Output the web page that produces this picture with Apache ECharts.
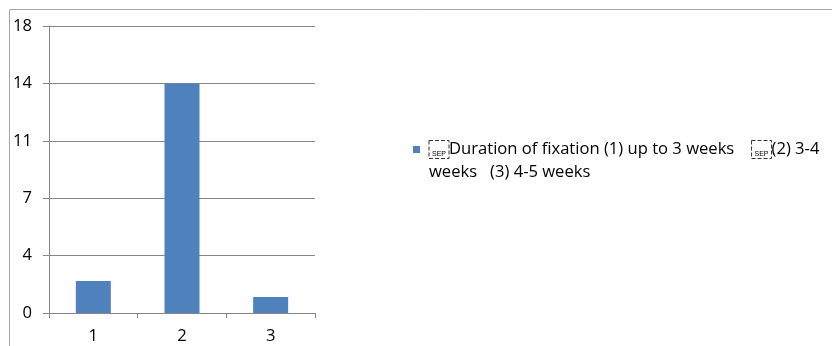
<!DOCTYPE html>
<html>
<head>
<meta charset="utf-8">
<script src="https://cdn.jsdelivr.net/npm/echarts@6/dist/echarts.min.js"></script>
<style>
  html, body { margin: 0; padding: 0; background: #fff; }
  #chart { width: 832px; height: 346px; }
</style>
</head>
<body>
<div id="chart"></div>
<script>
// Fixation duration groups and their counts
const categories = ['1', '2', '3'];
const counts = [2, 14.4, 1];
const seriesName = 'Duration of fixation';

// Value axis: 0..18 split into five equal steps, labels rounded
const yMin = 0;
const yMax = 18;
const yStep = 3.6;

const FONT = 'Open Sans';
const FONT_SIZE = 16.6;
const AXIS_GRAY = '#868686';

const chart = echarts.init(document.getElementById('chart'), null, { renderer: 'canvas' });

chart.setOption({
  animation: false,
  backgroundColor: '#ffffff',
  textStyle: { fontFamily: FONT },
  graphic: [
    {
      type: 'polyline',
      silent: true,
      shape: { points: [[9.5, 346], [9.5, 9.5], [832, 9.5]] },
      style: { stroke: '#a6a6a6', lineWidth: 1, fill: null }
    }
  ],
  grid: { left: 49, right: 517, top: 26, bottom: 33, containLabel: false },
  legend: {
    show: true,
    left: 413,
    top: 115,
    padding: 0,
    itemWidth: 7,
    itemHeight: 7,
    icon: 'rect',
    data: [seriesName],
    formatter: function () {
      return '{sep|SEP}Duration of fixation (1) up to 3 weeks    {sep|SEP}(2) 3-4\nweeks   (3) 4-5 weeks';
    },
    textStyle: {
      fontFamily: FONT,
      fontSize: FONT_SIZE,
      color: '#000',
      lineHeight: 23,
      padding: [23, 0, 0, 4],
      rich: {
        sep: {
          fontFamily: 'Liberation Sans',
          fontSize: 7,
          lineHeight: 8,
          color: '#000',
          borderColor: '#333',
          borderWidth: 1,
          borderType: 'dashed',
          padding: [10, 3, 1, 3]
        }
      }
    }
  },
  xAxis: {
    type: 'category',
    data: categories,
    boundaryGap: true,
    axisLine: { show: true, lineStyle: { color: AXIS_GRAY, width: 1 } },
    axisTick: { show: true, length: 5, alignWithLabel: false, lineStyle: { color: AXIS_GRAY } },
    axisLabel: { fontFamily: FONT, fontSize: FONT_SIZE, color: '#000', margin: 15 },
    splitLine: { show: false }
  },
  yAxis: {
    type: 'value',
    min: yMin,
    max: yMax,
    interval: yStep,
    axisLine: { show: true, lineStyle: { color: AXIS_GRAY, width: 1 } },
    axisTick: { show: true, length: 6, lineStyle: { color: AXIS_GRAY } },
    axisLabel: {
      fontFamily: FONT,
      fontSize: FONT_SIZE,
      color: '#000',
      margin: 17,
      formatter: function (v) { return String(Math.round(v)); }
    },
    splitLine: { show: true, lineStyle: { color: AXIS_GRAY, width: 1 } }
  },
  series: [
    {
      name: seriesName,
      type: 'bar',
      data: counts,
      barWidth: 35,
      itemStyle: { color: '#4F81BD' }
    }
  ]
});
</script>
</body>
</html>
